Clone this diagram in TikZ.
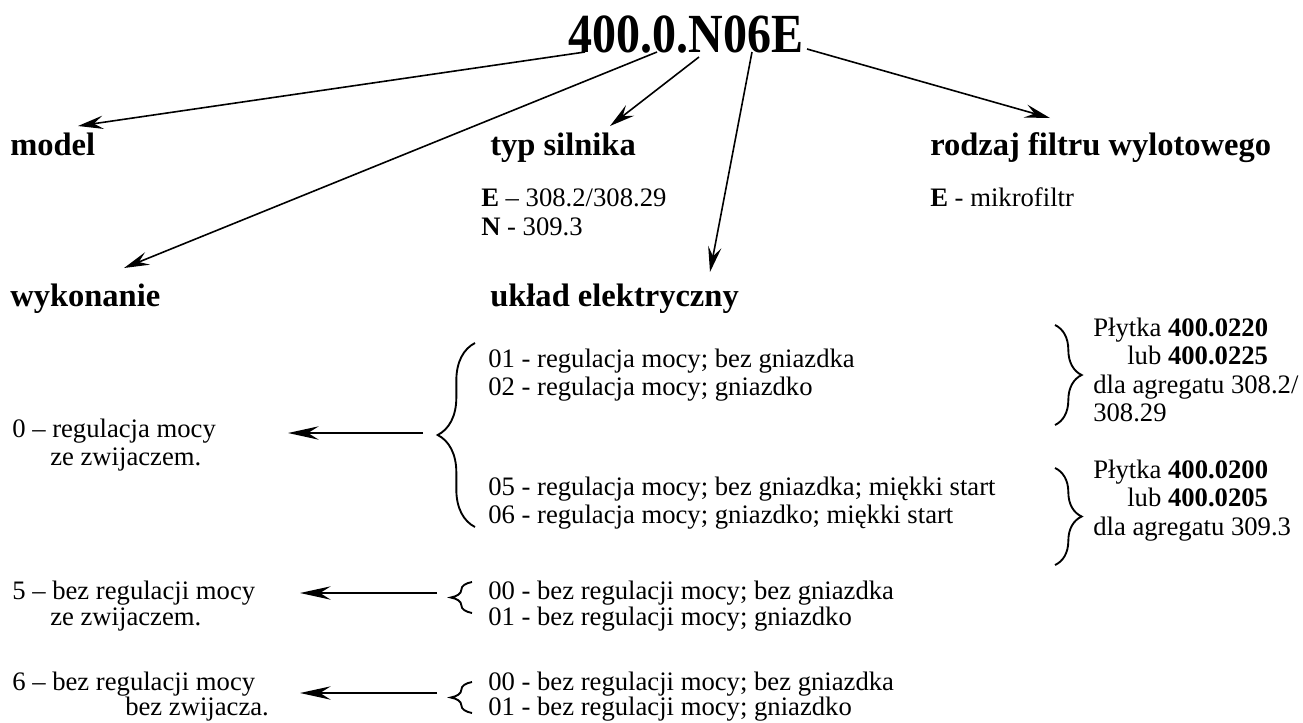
\documentclass[tikz,border=0pt]{standalone}
\usepackage{fontspec}
\setmainfont{Liberation Serif}
\usetikzlibrary{arrows.meta,decorations.pathreplacing}

\tikzset{brc/.style={line width=1.4pt,decorate,decoration={brace,amplitude=#1}}}

\begin{document}
\begin{tikzpicture}[x=0.75pt,y=-0.75pt]
    \tikzstyle{txt}=[anchor=base west,inner sep=0pt,font=\fontsize{20}{21}\selectfont]
    \tikzstyle{head}=[anchor=base west,inner sep=0pt,font=\fontsize{24.4}{29}\selectfont\bfseries]
    \tikzstyle{marrs}=[line width=1.2pt,-{Stealth[length=19pt,width=10pt,inset=7pt]}]
    \tikzstyle{larrs}=[line width=2pt,-{Stealth[length=23pt,width=10pt,inset=8pt]}]

    \useasboundingbox (0,0) rectangle (1303,722);

    \node[anchor=base,inner sep=0pt,font=\fontsize{36}{43}\selectfont\bfseries] (title) at (686,52) {\scalebox{1}[1.15]{400.0.N06E}};

    % naglowki
    \node[head] (model) at (10,155) {model};
    \node[head] (typ) at (490,155) {typ silnika};
    \node[head] (filtr) at (930,155) {rodzaj filtru wylotowego};
    \node[head] (wyk) at (10,306) {wykonanie};
    \node[head] (uklad) at (490,306) {układ elektryczny};

    \node[txt] (typE) at (481,206) {\textbf{E} – 308.2/308.29};
    \node[txt] (typN) at (481,235) {\textbf{N} - 309.3};
    \node[txt] (filE) at (930,206) {\textbf{E} - mikrofiltr};

    % strzalki od oznaczenia
    \foreach \n/\sx/\sy/\tx/\ty in {1/585/52/78/126, 2/657/52/124/268, 3/699/57/610/126,
                                   4/752/52/710/272, 5/807/49/1050/118} {
        \coordinate (s\n) at (\sx,\sy);
        \coordinate (t\n) at (\tx,\ty);
        \draw[marrs] (s\n) -- (t\n);
    }

    % uklad 0
    \node[txt] (ws0) at (12,437) {0 – regulacja mocy};
    \node[txt] (wz0) at (50,465) {ze zwijaczem.};
    \node[txt] (e01) at (488,367) {01 - regulacja mocy; bez gniazdka};
    \node[txt] (e02) at (488,395) {02 - regulacja mocy; gniazdko};
    \node[txt] (e05) at (488,495) {05 - regulacja mocy; bez gniazdka; miękki start};
    \node[txt] (e06) at (488,523) {06 - regulacja mocy; gniazdko; miękki start};
    \draw[brc=28] (475,527) -- (475,343);
    \coordinate (b0) at (423,433);
    \coordinate (a0) at (288,433);
    \draw[larrs] (b0) -- (a0);

    % plytki
    \node[txt] (p1a) at (1093,336) {Płytka \textbf{400.0220}};
    \node[txt] (p1b) at (1127,364) {lub \textbf{400.0225}};
    \node[txt] (p1c) at (1093,393) {dla agregatu 308.2/};
    \node[txt] (p1d) at (1093,421) {308.29};
    \node[txt] (p2a) at (1093,478) {Płytka \textbf{400.0200}};
    \node[txt] (p2b) at (1127,506) {lub \textbf{400.0205}};
    \node[txt] (p2c) at (1093,535) {dla agregatu 309.3};
    \draw[brc=20] (1055,325) -- (1055,425);
    \draw[brc=20] (1055,468) -- (1055,565);

    % uklad 5 i 6
    \foreach \k/\y/\yb/\ya/\rest/\dx in {5/599/625/593/ze zwijaczem./50, 6/690/715/693/bez zwijacza./125} {
        \node[txt] (ws\k) at (12,\y) {\k{} – bez regulacji mocy};
        \node[txt] (wz\k) at (\dx,\yb) {\rest};
        \node[txt] (ea\k) at (488,\y) {00 - bez regulacji mocy; bez gniazdka};
        \node[txt] (eb\k) at (488,\yb) {01 - bez regulacji mocy; gniazdko};
        \draw[brc=16] (472,\ya+20) -- (472,\ya-11);
        \coordinate (b\k) at (437,\ya);
        \coordinate (a\k) at (300,\ya);
        \draw[larrs] (b\k) -- (a\k);
    }
\end{tikzpicture}
\end{document}
